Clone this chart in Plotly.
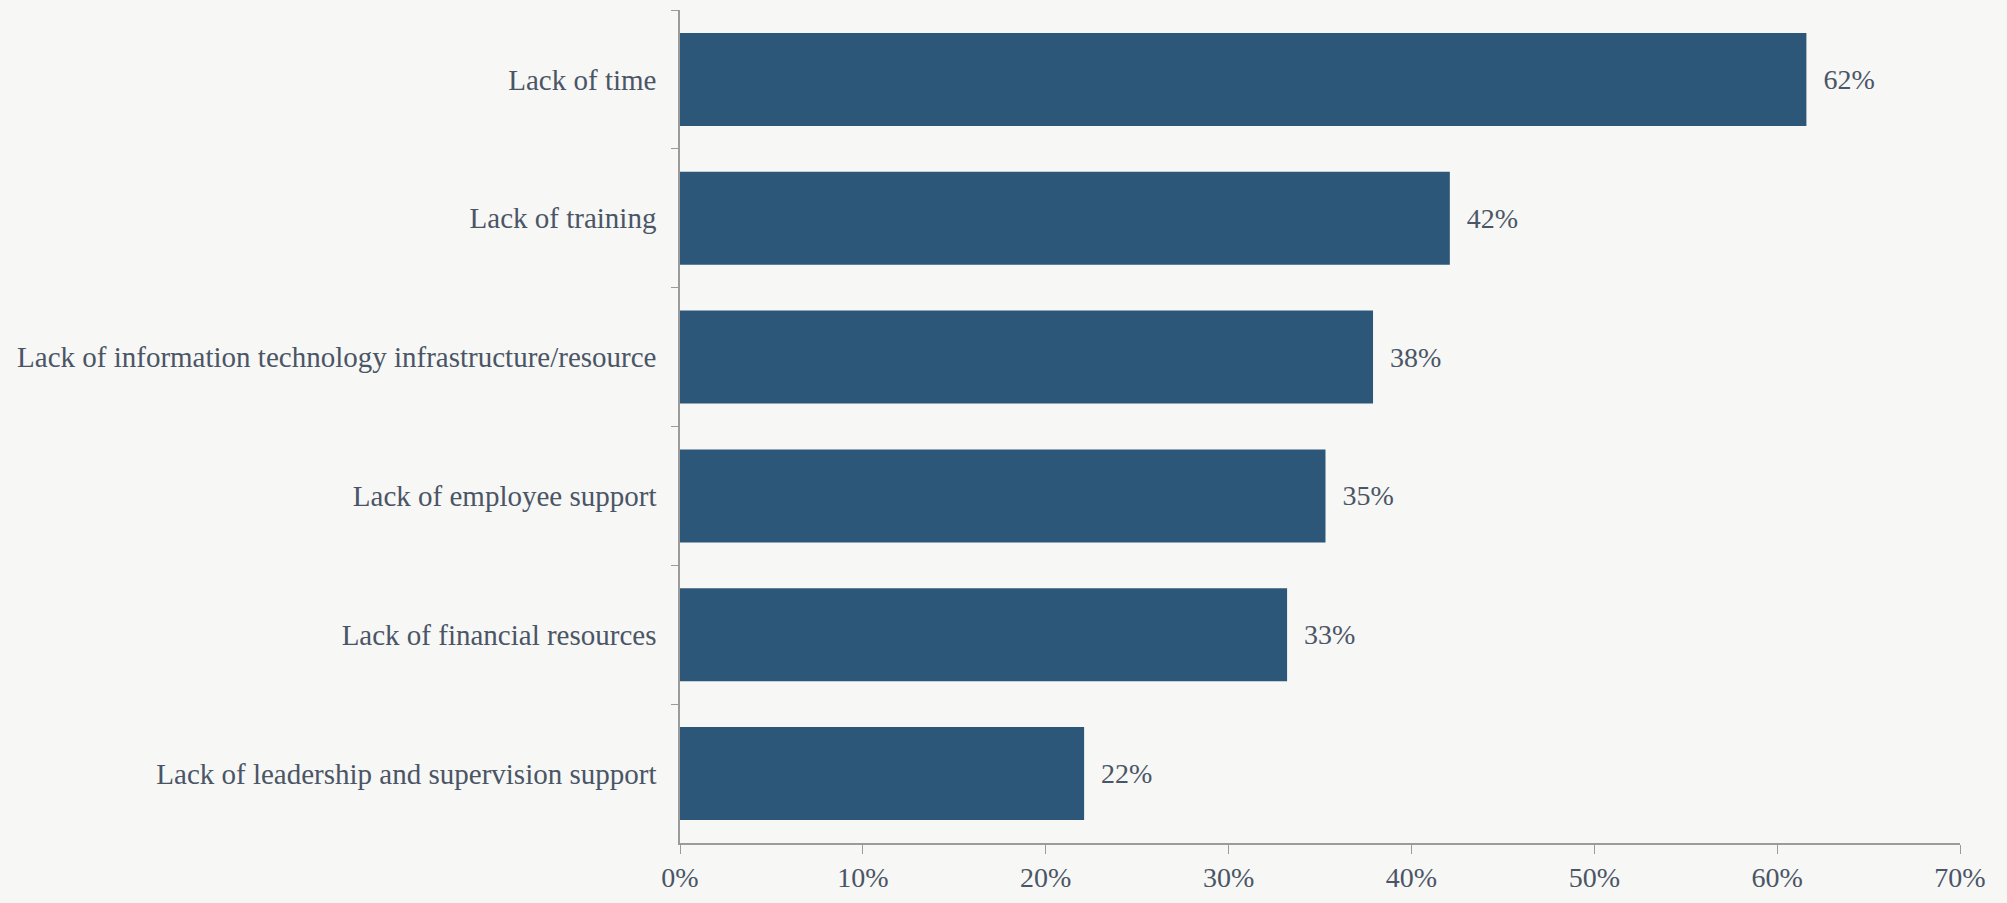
import plotly.graph_objects as go

categories = [
    "Lack of time",
    "Lack of training",
    "Lack of information technology infrastructure/resource",
    "Lack of employee support",
    "Lack of financial resources",
    "Lack of leadership and supervision support",
]
values = [61.6, 42.1, 37.9, 35.3, 33.2, 22.1]
labels = ["62%", "42%", "38%", "35%", "33%", "22%"]
x_ticks = [0, 10, 20, 30, 40, 50, 60, 70]
x_tick_text = [f"{t}%" for t in x_ticks]

TEXT = "#4a5566"
AXIS = "#9b9b9b"
FONT = "Liberation Serif, serif"
BG = "#f7f7f5"

fig = go.Figure(
    go.Bar(
        y=categories,
        x=values,
        orientation="h",
        marker=dict(color="#2c5778", line=dict(width=0)),
        text=["  " + l for l in labels],
        textposition="outside",
        textfont=dict(family=FONT, size=28, color=TEXT),
        cliponaxis=False,
        hoverinfo="skip",
    )
)

fig.update_layout(
    width=2007,
    height=903,
    margin=dict(l=680, r=47, t=10, b=54),
    paper_bgcolor=BG,
    plot_bgcolor=BG,
    bargap=0.33,
    showlegend=False,
    font=dict(family=FONT, size=28, color=TEXT),
)
fig.update_xaxes(
    range=[0, 70],
    tickvals=x_ticks,
    ticktext=x_tick_text,
    showgrid=False,
    zeroline=False,
    showline=True,
    linecolor=AXIS,
    linewidth=1.5,
    ticks="outside",
    ticklen=9,
    tickcolor=AXIS,
    tickfont=dict(family=FONT, size=28, color=TEXT),
)
fig.update_yaxes(
    autorange="reversed",
    showgrid=False,
    showline=True,
    linecolor=AXIS,
    linewidth=1.5,
    ticks="outside",
    tickson="boundaries",
    ticklen=7,
    tickcolor=AXIS,
    ticklabelstandoff=16,
    tickfont=dict(family=FONT, size=29, color=TEXT),
)

fig.write_html(
    "out.html",
    config={"displayModeBar": False},
    post_script="document.body.style.margin='0';document.body.style.background='%s';" % BG,
)
